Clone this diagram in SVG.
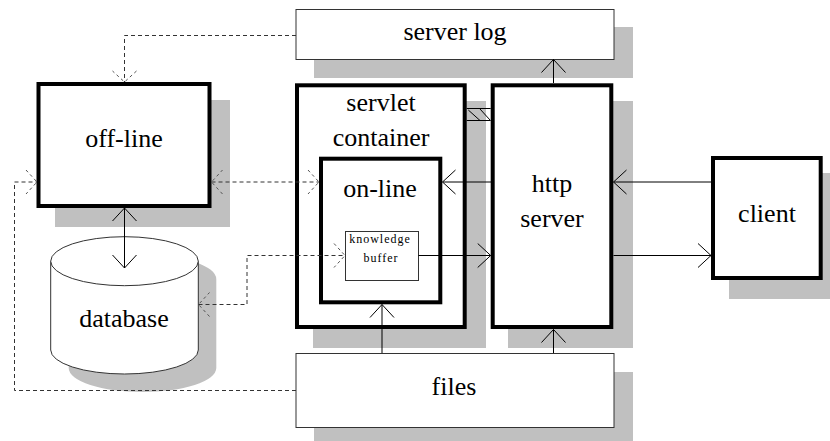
<svg xmlns="http://www.w3.org/2000/svg" width="830" height="441" viewBox="0 0 830 441">
<style>
.shadow{fill:#c0c0c0;stroke:none}
.thick{fill:#fff;stroke:#000;stroke-width:4}
.thin{fill:#fff;stroke:#333;stroke-width:1}
.lbl{font-family:"Liberation Serif","Times New Roman",serif;font-size:26px;fill:#000;text-anchor:middle}
.small{font-family:"Liberation Serif","Times New Roman",serif;font-size:12px;letter-spacing:1px;fill:#000;text-anchor:middle}
.solid{fill:none;stroke:#000;stroke-width:1}
.dash{fill:none;stroke:#333;stroke-width:1;stroke-dasharray:4,3}
</style>
<defs>
<marker id="arr" viewBox="-14 -13 16 26" refX="0" refY="0" markerWidth="16" markerHeight="26" markerUnits="userSpaceOnUse" orient="auto-start-reverse">
<path d="M-13,-12 L0,0 L-13,12" fill="none" stroke="#000" stroke-width="1"/>
</marker>
<marker id="darr" viewBox="-14 -13 16 26" refX="0" refY="0" markerWidth="16" markerHeight="26" markerUnits="userSpaceOnUse" orient="auto-start-reverse">
<path d="M-11,-12 L0,0 L-11,12" fill="none" stroke="#555" stroke-width="1" stroke-dasharray="3,3"/>
</marker>
</defs>
<rect width="830" height="441" fill="#fff"/>

<g id="server-log">
<rect class="shadow" x="314" y="27" width="319" height="51"/>
<rect class="thin" x="296" y="9.5" width="318" height="50"/>
<text class="lbl" x="455" y="40">server log</text>
</g>

<g id="off-line">
<rect class="shadow" x="55" y="100" width="175" height="127"/>
<rect class="thick" x="38.5" y="84" width="171" height="122"/>
<text class="lbl" x="124" y="147">off-line</text>
</g>

<g id="database">
<path class="shadow" d="M68.7,279.2 A73.8,24.5 0 0 1 216.3,279.2 L216.3,368 A73.8,24 0 0 1 68.7,368 Z"/>
<path d="M50.7,261.2 L50.7,350 A73.8,24 0 0 0 198.3,350 L198.3,261.2" fill="#fff" stroke="#333" stroke-width="1"/>
<ellipse cx="124.5" cy="261.2" rx="73.8" ry="24.5" fill="#fff" stroke="#333" stroke-width="1"/>
<text class="lbl" x="124" y="327">database</text>
</g>

<g id="servlet-container">
<rect class="shadow" x="313" y="101" width="173" height="247"/>
<rect class="thick" x="297" y="85.3" width="167.7" height="241.7"/>
<text class="lbl" x="381" y="110.5">servlet</text>
<text class="lbl" x="381" y="145.5">container</text>
</g>

<g id="on-line">
<rect class="thick" x="321" y="158.7" width="119.3" height="143.6"/>
<text class="lbl" x="380" y="197">on-line</text>
</g>

<g id="knowledge-buffer">
<rect class="thin" x="345.5" y="231.5" width="73" height="49"/>
<text class="small" x="380" y="243.3">knowledge</text>
<text class="small" x="381" y="262.3">buffer</text>
</g>

<g id="http-server">
<rect class="shadow" x="508" y="101" width="125" height="247"/>
<rect class="thick" x="492.7" y="85.3" width="118.6" height="241.7"/>
<text class="lbl" x="552" y="191.7">http</text>
<text class="lbl" x="552" y="226.7">server</text>
</g>

<g id="client">
<rect class="shadow" x="729" y="173" width="112" height="126"/>
<rect class="thick" x="713" y="158" width="107.7" height="120"/>
<text class="lbl" x="767" y="222">client</text>
</g>

<g id="files">
<rect class="shadow" x="314" y="372" width="319" height="75"/>
<rect class="thin" x="296" y="353.5" width="318" height="74"/>
<text class="lbl" x="454" y="395">files</text>
</g>

<g id="connectors">
<path class="dash" d="M296,35.5 H124.5 V82" marker-end="url(#darr)"/>
<path class="solid" d="M124.5,208 V268" marker-start="url(#arr)" marker-end="url(#arr)"/>
<path class="dash" d="M211.5,182 H319" marker-start="url(#darr)" marker-end="url(#darr)"/>
<path class="dash" d="M296,390.5 H14.5 V182 H37" marker-end="url(#darr)"/>
<path class="dash" d="M198.5,304.5 H247 V255.5 H345" marker-start="url(#darr)" marker-end="url(#darr)"/>
<path class="solid" d="M491,182 H442.5" marker-end="url(#arr)"/>
<path class="solid" d="M418.5,255.5 H490.7" marker-end="url(#arr)"/>
<path class="solid" d="M711,182 H613.5" marker-end="url(#arr)"/>
<path class="solid" d="M613.5,255.5 H711" marker-end="url(#arr)"/>
<path class="solid" d="M553.5,83 V59.5" marker-end="url(#arr)"/>
<path class="solid" d="M382,353 V304.5" marker-end="url(#arr)"/>
<path class="solid" d="M553.5,353 V329.5" marker-end="url(#arr)"/>
<g id="bus" class="solid">
<path class="solid" d="M466.7,108.5 H490.7 M466.7,120.5 H490.7"/>
<path class="solid" d="M468.3,110 L480,120.5 M480,109 L490,120"/>
</g>
</g>
</svg>
